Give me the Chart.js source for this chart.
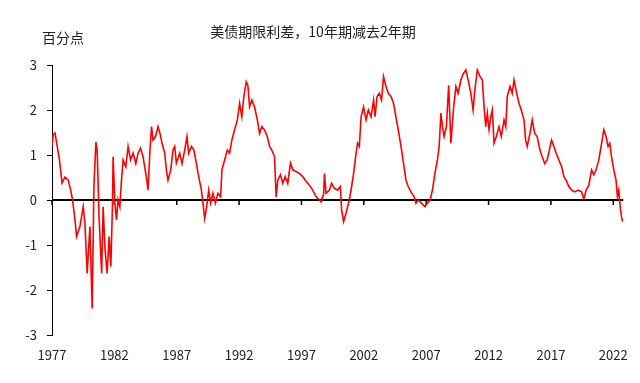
<!DOCTYPE html>
<html>
<head>
<meta charset="utf-8">
<script src="https://cdn.jsdelivr.net/npm/chart.js@4"></script>
<style>
  html, body { margin: 0; padding: 0; background: #fff; }
</style>
</head>
<body>
<canvas id="chart" width="640" height="383"></canvas>
<script>
const chartTitle = '美债期限利差，10年期减去2年期';
const unitLabel = '百分点';
const tickYears = [1977, 1982, 1987, 1992, 1997, 2002, 2007, 2012, 2017, 2022];
const yTicks = [-3, -2, -1, 0, 1, 2, 3];

// decimal year of each reading
const years = [
  1977.00, 1977.10, 1977.24, 1977.37, 1977.60, 1977.80, 1978.04, 1978.30, 1978.50, 1978.65,
  1978.84, 1978.97, 1979.24, 1979.50, 1979.64, 1979.82, 1980.04, 1980.22, 1980.36, 1980.52,
  1980.62, 1980.78, 1980.98, 1981.10, 1981.24, 1981.42, 1981.58, 1981.72, 1981.85, 1981.90,
  1982.04, 1982.17, 1982.30, 1982.44, 1982.57, 1982.70, 1982.92, 1983.10, 1983.30, 1983.50,
  1983.72, 1983.90, 1984.10, 1984.30, 1984.57, 1984.70, 1984.84, 1984.98, 1985.10, 1985.30,
  1985.50, 1985.66, 1985.82, 1986.04, 1986.17, 1986.30, 1986.52, 1986.70, 1986.84, 1986.97,
  1987.24, 1987.42, 1987.64, 1987.82, 1987.96, 1988.18, 1988.38, 1988.57, 1988.76, 1988.98,
  1989.10, 1989.24, 1989.40, 1989.56, 1989.72, 1989.90, 1990.10, 1990.30, 1990.52, 1990.62,
  1990.84, 1991.06, 1991.24, 1991.42, 1991.64, 1991.86, 1992.04, 1992.22, 1992.38, 1992.57,
  1992.70, 1992.84, 1993.02, 1993.24, 1993.46, 1993.64, 1993.82, 1994.04, 1994.26, 1994.44,
  1994.62, 1994.84, 1994.97, 1995.10, 1995.32, 1995.50, 1995.70, 1995.90, 1996.12, 1996.30,
  1996.58, 1996.84, 1997.10, 1997.38, 1997.64, 1997.90, 1998.18, 1998.44, 1998.57, 1998.78,
  1998.84, 1998.97, 1999.24, 1999.42, 1999.64, 1999.90, 2000.12, 2000.22, 2000.38, 2000.57,
  2000.70, 2000.84, 2001.02, 2001.18, 2001.38, 2001.50, 2001.64, 2001.78, 2001.98, 2002.18,
  2002.36, 2002.58, 2002.78, 2002.90, 2003.06, 2003.24, 2003.42, 2003.58, 2003.78, 2003.96,
  2004.18, 2004.38, 2004.57, 2004.76, 2004.98, 2005.18, 2005.38, 2005.56, 2005.78, 2006.04,
  2006.18, 2006.36, 2006.62, 2006.90, 2007.10, 2007.32, 2007.50, 2007.70, 2007.90, 2008.04,
  2008.18, 2008.30, 2008.44, 2008.62, 2008.80, 2008.98, 2009.18, 2009.38, 2009.56, 2009.78,
  2009.98, 2010.18, 2010.36, 2010.58, 2010.76, 2010.90, 2011.10, 2011.32, 2011.50, 2011.64,
  2011.78, 2011.90, 2012.04, 2012.18, 2012.30, 2012.44, 2012.62, 2012.84, 2013.02, 2013.24,
  2013.38, 2013.50, 2013.72, 2013.90, 2014.04, 2014.26, 2014.44, 2014.62, 2014.84, 2014.97,
  2015.10, 2015.32, 2015.50, 2015.70, 2015.90, 2016.12, 2016.30, 2016.50, 2016.70, 2017.05,
  2017.24, 2017.42, 2017.64, 2017.86, 2018.04, 2018.22, 2018.44, 2018.66, 2018.92, 2019.18,
  2019.46, 2019.64, 2019.82, 2020.04, 2020.26, 2020.44, 2020.62, 2020.84, 2021.06, 2021.24,
  2021.42, 2021.58, 2021.72, 2021.86, 2022.04, 2022.22, 2022.33, 2022.44, 2022.58, 2022.70,
  2022.78
];

// 10y minus 2y, percentage points
const spread = [
  1.20, 1.45, 1.49, 1.27, 0.89, 0.38, 0.51, 0.44, 0.22, 0.00,
  -0.44, -0.81, -0.59, -0.15, -0.52, -1.63, -0.59, -2.41, 0.30, 1.29,
  1.11, -0.44, -1.63, -0.15, -1.04, -1.63, -0.81, -1.48, -0.07, 0.96,
  -0.07, -0.44, 0.00, -0.15, 0.44, 0.89, 0.74, 1.19, 0.89, 1.04,
  0.81, 1.04, 1.15, 0.96, 0.50, 0.22, 1.04, 1.63, 1.33, 1.41,
  1.63, 1.48, 1.26, 1.04, 0.67, 0.44, 0.67, 1.11, 1.19, 0.82,
  1.04, 0.81, 1.11, 1.41, 1.04, 1.19, 1.11, 0.82, 0.52, 0.22,
  -0.07, -0.41, -0.15, 0.22, -0.07, 0.15, -0.07, 0.15, 0.07, 0.67,
  0.89, 1.11, 1.04, 1.33, 1.56, 1.78, 2.15, 1.85, 2.30, 2.63,
  2.55, 2.07, 2.22, 2.07, 1.78, 1.48, 1.63, 1.56, 1.41, 1.19,
  1.11, 0.96, 0.07, 0.44, 0.56, 0.37, 0.52, 0.37, 0.82, 0.67,
  0.63, 0.59, 0.52, 0.41, 0.33, 0.22, 0.07, 0.00, -0.04, 0.15,
  0.59, 0.15, 0.22, 0.37, 0.26, 0.22, 0.30, -0.22, -0.48, -0.30,
  -0.15, 0.00, 0.30, 0.59, 1.04, 1.26, 1.19, 1.85, 2.07, 1.78,
  2.00, 1.85, 2.22, 1.85, 2.30, 2.37, 2.22, 2.74, 2.52, 2.37,
  2.30, 2.15, 1.85, 1.56, 1.19, 0.82, 0.44, 0.30, 0.18, 0.07,
  -0.07, 0.00, -0.07, -0.15, -0.07, 0.00, 0.22, 0.59, 0.89, 1.19,
  1.93, 1.63, 1.41, 1.63, 2.55, 1.26, 2.00, 2.52, 2.37, 2.67,
  2.81, 2.89, 2.67, 2.37, 2.00, 2.44, 2.89, 2.74, 2.67, 2.07,
  1.63, 1.93, 1.56, 1.85, 2.00, 1.26, 1.41, 1.63, 1.41, 1.78,
  1.63, 2.30, 2.52, 2.37, 2.67, 2.37, 2.15, 2.00, 1.78, 1.33,
  1.19, 1.48, 1.78, 1.48, 1.41, 1.11, 0.96, 0.81, 0.89, 1.33,
  1.19, 1.04, 0.89, 0.74, 0.52, 0.44, 0.30, 0.22, 0.18, 0.22,
  0.18, 0.02, 0.22, 0.33, 0.67, 0.56, 0.67, 0.89, 1.26, 1.56,
  1.41, 1.19, 1.26, 0.96, 0.67, 0.44, 0.07, 0.22, -0.22, -0.44,
  -0.48
];

const points = years.map((yr, i) => ({ x: yr, y: spread[i] }));
const fontFamily = '"Noto Sans CJK SC", "Liberation Sans", sans-serif';

// zero line with tick marks, and the two text labels
const zeroAxis = {
  id: 'zeroAxis',
  beforeDatasetsDraw(chart) {
    const { ctx, scales: { x, y } } = chart;
    const y0 = y.getPixelForValue(0);
    ctx.save();
    ctx.strokeStyle = '#000';
    ctx.lineWidth = 2;
    ctx.beginPath();
    ctx.moveTo(x.left, y0);
    ctx.lineTo(x.right, y0);
    ctx.stroke();
    ctx.lineWidth = 1.5;
    ctx.beginPath();
    tickYears.forEach(yr => {
      const px = x.getPixelForValue(yr);
      ctx.moveTo(px, y0);
      ctx.lineTo(px, y0 + 5);
    });
    ctx.stroke();
    ctx.restore();
  },
  afterDraw(chart) {
    const ctx = chart.ctx;
    ctx.save();
    ctx.fillStyle = '#222';
    ctx.font = '14px ' + fontFamily;
    ctx.textBaseline = 'middle';
    ctx.textAlign = 'center';
    ctx.fillText(chartTitle, 313, 32);
    ctx.textAlign = 'left';
    ctx.fillText(unitLabel, 42, 38);
    ctx.restore();
  }
};

new Chart(document.getElementById('chart'), {
  type: 'line',
  data: {
    datasets: [{
      data: points,
      borderColor: '#ff0000',
      borderWidth: 1.6,
      pointRadius: 0,
      tension: 0
    }]
  },
  options: {
    responsive: false,
    animation: false,
    layout: { padding: { top: 65, right: 16, bottom: 0, left: 0 } },
    plugins: {
      legend: { display: false },
      tooltip: { enabled: false }
    },
    scales: {
      x: {
        type: 'linear',
        min: 1977,
        max: 2022.8,
        afterBuildTicks: s => { s.ticks = tickYears.map(v => ({ value: v })); },
        afterFit: s => { s.height = 48; },
        grid: { display: false, drawTicks: false },
        border: { display: false },
        ticks: {
          padding: 12,
          color: '#222',
          autoSkip: false,
          maxRotation: 0,
          font: { size: 13, family: fontFamily },
          callback: v => String(v)
        }
      },
      y: {
        min: -3,
        max: 3,
        afterBuildTicks: s => { s.ticks = yTicks.map(v => ({ value: v })); },
        afterFit: s => { s.width = 52; },
        grid: { drawOnChartArea: false, drawTicks: true, tickLength: 5, color: '#000' },
        border: { display: true, color: '#000', width: 1 },
        ticks: {
          padding: 10,
          color: '#222',
          font: { size: 13, family: fontFamily },
          callback: v => String(v)
        }
      }
    }
  },
  plugins: [zeroAxis]
});
</script>
</body>
</html>
